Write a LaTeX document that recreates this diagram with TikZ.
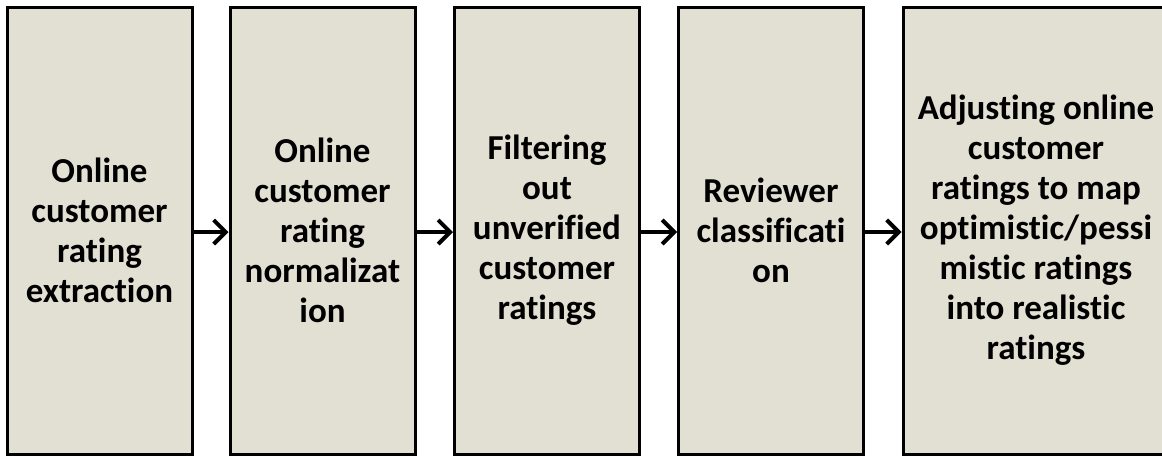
\documentclass[tikz,border=0pt]{standalone}
\usepackage{fontspec}
\setmainfont[Ligatures={NoCommon,NoRare}]{Carlito}
\usetikzlibrary{arrows.meta}
\definecolor{boxfill}{RGB}{226,224,211}
\tikzset{
  stagebox/.style={draw=black, line width=3pt, fill=boxfill, minimum height=447pt,
    inner sep=0pt, align=center, font=\bfseries\fontsize{35}{40}\selectfont},
  flowarrow/.style={line width=4pt, -{Straight Barb[length=12pt,width=24pt,line width=4pt]}}
}
\begin{document}
\begin{tikzpicture}[x=1pt,y=-1pt]
\useasboundingbox (0,0) rectangle (1162,456);
\begin{scope}
\clip (0,0) rectangle (1162,456);
\node[stagebox, minimum width=185pt] (b1) at (99.5,230.5) {Online\\customer\\rating\\extraction};
\node[stagebox, minimum width=185pt] (b2) at (322.5,230.5) {Online\\customer\\rating\\normalizat\\ion};
\node[stagebox, minimum width=185pt] (b3) at (547,230.5) {Filtering\\out\\unverified\\customer\\ratings};
\node[stagebox, minimum width=185pt] (b4) at (771,230.5) {Reviewer\\classificati\\on};
\node[stagebox, minimum width=266pt] (b5) at (1036,230.5) {Adjusting online\\customer\\ratings to map\\optimistic/pessi\\mistic ratings\\into realistic\\ratings};
\draw[flowarrow] (b1.east |- 0,232) -- (b2.west |- 0,232);
\draw[flowarrow] (b2.east |- 0,232) -- (b3.west |- 0,232);
\draw[flowarrow] (b3.east |- 0,232) -- (b4.west |- 0,232);
\draw[flowarrow] (b4.east |- 0,232) -- (b5.west |- 0,232);
\end{scope}
\end{tikzpicture}
\end{document}
